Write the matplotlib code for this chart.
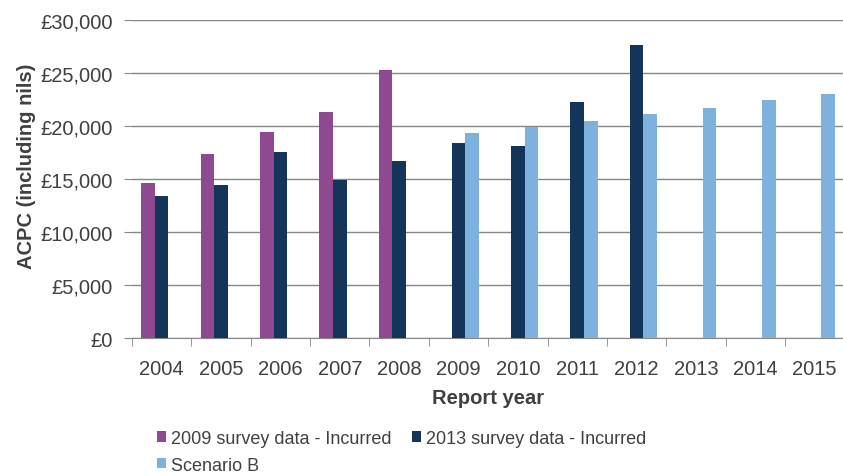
import numpy as np
import matplotlib.pyplot as plt
from matplotlib.ticker import FuncFormatter

plt.rcParams['font.family'] = ['Liberation Sans', 'DejaVu Sans']

years = ['2004', '2005', '2006', '2007', '2008', '2009', '2010', '2011', '2012', '2013', '2014', '2015']
survey_2009 = [14590, 17360, 19400, 21350, 25280, None, None, None, None, None, None, None]
survey_2013 = [13400, 14400, 17520, 14940, 16700, 18370, 18080, 22230, 27610, None, None, None]
scenario_b = [None, None, None, None, None, 19340, 19940, 20500, 21130, 21730, 22420, 23050]

labels = ['2009 survey data - Incurred', '2013 survey data - Incurred', 'Scenario B']
colors = ['#8E4991', '#14355A', '#7DB2DF']
text_col = '#404040'

fig = plt.figure(figsize=(8.43, 4.77), dpi=100)
ax = fig.add_axes([0.1566, 0.2893, 0.845, 0.6667])

x = np.arange(len(years))
w = 0.228
bars = []
for i, (vals, c, lab) in enumerate(zip([survey_2009, survey_2013, scenario_b], colors, labels)):
    v = np.array([np.nan if a is None else a for a in vals], dtype=float)
    bars.append(ax.bar(x + (i - 1) * w, v, width=w, color=c, label=lab, zorder=3))

ax.set_xlim(-0.5, len(years) - 0.5)
ax.set_ylim(0, 30000)
ax.set_yticks(np.arange(0, 30001, 5000))
ax.yaxis.set_major_formatter(FuncFormatter(lambda v, p: '£{:,.0f}'.format(v)))
ax.grid(axis='y', color='#878787', linewidth=1, zorder=0)

ax.set_xticks(x)
ax.set_xticklabels(years)
ax.set_xticks(np.arange(-0.5, len(years), 1), minor=True)
ax.tick_params(axis='x', which='major', length=0, pad=15, labelsize=14.5, labelcolor=text_col)
ax.tick_params(axis='x', which='minor', length=6, color='#878787', direction='out')
ax.tick_params(axis='y', length=6, color='#878787', pad=8, labelsize=14.5, labelcolor=text_col)

for s in ['top', 'right', 'left']:
    ax.spines[s].set_visible(False)
ax.spines['bottom'].set_color('#878787')

ax.set_xlabel('Report year', fontsize=14.5, fontweight='bold', color=text_col, labelpad=7)
ax.set_ylabel('ACPC (including nils)', fontsize=14.5, fontweight='bold', color=text_col)
ax.yaxis.set_label_coords(-0.135, 0.544)

# legend fills column-wise, so order entries to read row-wise like the original
order = [0, 2, 1]
fig.legend([bars[k] for k in order], [labels[k] for k in order],
           loc='upper left', bbox_to_anchor=(0.178, 0.112), ncol=2, frameon=False,
           fontsize=13, labelcolor=text_col, handlelength=0.5, handleheight=0.5,
           handletextpad=0.28, columnspacing=1.1, labelspacing=0.55, borderaxespad=0)

fig.savefig('out.png', dpi=100)
